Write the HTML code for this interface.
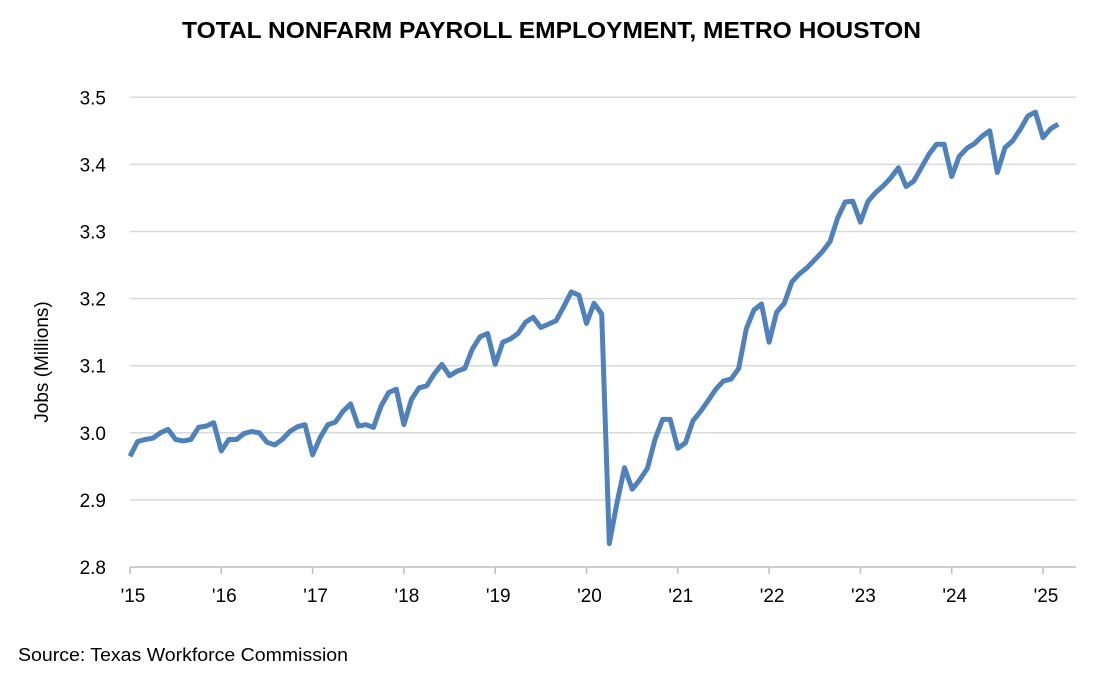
<!DOCTYPE html>
<html><head><meta charset="utf-8"><style>
body{margin:0;background:#fff;font-family:"Liberation Sans",Arial,sans-serif}
</style></head><body>
<svg width="1099" height="679" xmlns="http://www.w3.org/2000/svg">
<text x="182" y="38" font-size="23" font-weight="bold" textLength="739" lengthAdjust="spacingAndGlyphs">TOTAL NONFARM PAYROLL EMPLOYMENT, METRO HOUSTON</text>
<g id="grid"></g>
<g id="yt"></g>
<g id="xt"></g>
<text transform="translate(48,362) rotate(-90)" text-anchor="middle" font-size="19">Jobs (Millions)</text>
<path id="line" fill="none" stroke="#4f81bd" stroke-width="5" stroke-linejoin="round"/>
<text x="18" y="661" font-size="18" textLength="330" lengthAdjust="spacingAndGlyphs">Source: Texas Workforce Commission</text>
</svg>
<script>
const yTicks=[2.8,2.9,3.0,3.1,3.2,3.3,3.4,3.5];
const yLabels=["2.8","2.9","3.0","3.1","3.2","3.3","3.4","3.5"];
const xLabels=["'15","'16","'17","'18","'19","'20","'21","'22","'23","'24","'25"];
const jobs=[2.965,2.987,2.990,2.992,3.000,3.005,2.990,2.988,2.990,3.008,3.010,3.015,
2.973,2.990,2.990,2.999,3.002,3.000,2.986,2.982,2.990,3.002,3.009,3.012,
2.967,2.993,3.012,3.016,3.032,3.043,3.010,3.012,3.008,3.040,3.060,3.065,
3.012,3.050,3.067,3.070,3.088,3.102,3.085,3.092,3.096,3.125,3.143,3.148,
3.102,3.135,3.140,3.148,3.165,3.172,3.157,3.162,3.167,3.188,3.210,3.205,
3.163,3.193,3.177,2.835,2.895,2.948,2.916,2.930,2.947,2.990,3.020,3.020,
2.977,2.985,3.018,3.032,3.048,3.065,3.077,3.080,3.096,3.155,3.183,3.192,
3.135,3.180,3.193,3.225,3.237,3.246,3.258,3.270,3.285,3.320,3.344,3.345,
3.314,3.345,3.358,3.368,3.380,3.395,3.367,3.375,3.395,3.415,3.430,3.430,
3.382,3.412,3.424,3.431,3.442,3.450,3.388,3.425,3.435,3.452,3.472,3.478,
3.440,3.453,3.460];
const NS="http://www.w3.org/2000/svg";
const x0=130,yearW=91.3,left=130,right=1076;
const X=m=>x0+m*yearW/12;
const Y=v=>567-(v-2.8)*671;
const grid=document.getElementById('grid'),yt=document.getElementById('yt'),xt=document.getElementById('xt');
yTicks.forEach((t,i)=>{
 const l=document.createElementNS(NS,'line');
 
 
 l.setAttribute('x1',left);l.setAttribute('x2',right);l.setAttribute('y1',Y(t));l.setAttribute('y2',Y(t));
 l.setAttribute('stroke',i==0?'#bfbfbf':'#d9d9d9');l.setAttribute('stroke-width','1.5');
 grid.appendChild(l);
 const tx=document.createElementNS(NS,'text');
 
 
 tx.setAttribute('x',106);tx.setAttribute('y',Y(t)+7);tx.setAttribute('text-anchor','end');tx.setAttribute('font-size','19');
 tx.textContent=yLabels[i];yt.appendChild(tx);
});
xLabels.forEach((s,i)=>{
 const x=X(i*12);
 const l=document.createElementNS(NS,'line');
 
 
 l.setAttribute('x1',x);l.setAttribute('x2',x);l.setAttribute('y1',567);l.setAttribute('y2',574);
 l.setAttribute('stroke','#bfbfbf');l.setAttribute('stroke-width','1.5');xt.appendChild(l);
 const tx=document.createElementNS(NS,'text');
 
 
 tx.setAttribute('x',x+3);tx.setAttribute('y',602);tx.setAttribute('text-anchor','middle');tx.setAttribute('font-size','19');
 tx.textContent=s;xt.appendChild(tx);
});
document.getElementById('line').setAttribute('d',jobs.map((v,i)=>(i?'L':'M')+X(i).toFixed(1)+','+Y(v).toFixed(1)).join(''));
</script>
</body></html>
